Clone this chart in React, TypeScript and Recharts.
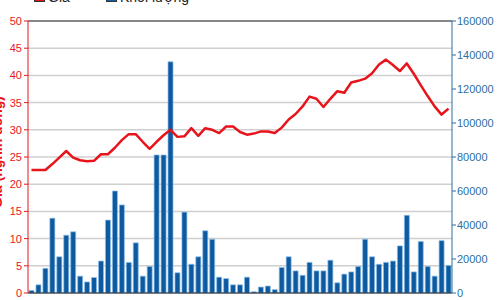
import React from 'react';
import { ComposedChart, Bar, Line, XAxis, YAxis, CartesianGrid, Legend, ReferenceLine } from 'recharts';

// 61 phiên, giá (nghìn đồng) và khối lượng
const price: number[] = [
  22.6, 22.6, 22.6, 23.7, 24.9, 26.1, 24.9, 24.4, 24.2, 24.3,
  25.5, 25.5, 26.7, 28.1, 29.2, 29.2, 27.8, 26.5, 27.8, 29.0,
  30.0, 28.7, 28.8, 30.3, 28.9, 30.3, 30.0, 29.4, 30.6, 30.6,
  29.6, 29.1, 29.3, 29.7, 29.7, 29.4, 30.4, 31.9, 32.9, 34.3,
  36.1, 35.7, 34.2, 35.7, 37.1, 36.8, 38.7, 39.0, 39.4, 40.4,
  42.0, 42.9, 41.9, 40.8, 42.2, 40.3, 38.2, 36.2, 34.3, 32.8,
  33.9,
];

const volume: number[] = [
  1500, 4800, 14500, 44000, 21300, 34000, 36000, 9900, 6500, 9100,
  18800, 42900, 60000, 51800, 18000, 29500, 9900, 15600, 81200, 81200,
  136000, 11900, 47600, 16900, 21300, 36600, 31600, 9300, 8500, 4800,
  4800, 9300, 700, 3500, 4100, 2000, 15000, 21300, 13000, 10400,
  18000, 13000, 13000, 19300, 6000, 11100, 12400, 15600, 31600, 21300,
  16900, 18000, 18800, 27700, 45700, 12400, 30300, 15600, 9900, 30800,
  16200,
];

const priceTicks = [0, 5, 10, 15, 20, 25, 30, 35, 40, 45, 50];
const volumeTicks = [0, 20000, 40000, 60000, 80000, 100000, 120000, 140000, 160000];

const data = price.map((p, i) => ({ d: i, price: p, volume: volume[i] }));

const RED = '#e8141b';
const BLUE = '#2d6f9f';
const font = '"Liberation Sans", Arial, sans-serif';

function LegendBox() {
  const item = (color: string, text: string, left: number) => (
    <div style={{ position: 'absolute', left, top: 0, display: 'flex', alignItems: 'flex-end', whiteSpace: 'nowrap' }}>
      <div style={{ width: 9, height: 9, background: color, border: '1px solid #333', marginRight: 3, marginBottom: 2 }} />
      <span style={{ fontFamily: font, fontSize: 14, lineHeight: '14px', color: '#222' }}>{text}</span>
    </div>
  );
  return (
    <div style={{ position: 'relative', height: 14 }}>
      {item(RED, 'Giá', 34)}
      {item('#1060a5', 'Khối lượng', 106)}
    </div>
  );
}

const AxisTitle = () => (
  <text transform="translate(2,152) rotate(-90)" textAnchor="middle" fill={RED}
    style={{ fontFamily: font, fontSize: 14, fontWeight: 'bold' }}>
    Giá (nghìn đồng)
  </text>
);

export default function App() {
  return (
    <div style={{ position: 'absolute', left: 0, top: 0, background: '#fff' }}>
      <ComposedChart width={501} height={300} data={data} margin={{ top: 7, right: 0, bottom: 2, left: 0 }}>
        <CartesianGrid yAxisId="p" vertical={false} stroke="#cfcfcf" strokeWidth={1.5} />
        <XAxis dataKey="d" interval={9} tick={false} tickSize={5} height={5}
          axisLine={{ stroke: '#222' }} tickLine={{ stroke: '#222' }} />
        <YAxis yAxisId="p" orientation="left" width={28} domain={[0, 50]} ticks={priceTicks}
          tickSize={4} tickMargin={2} axisLine={{ stroke: RED }} tickLine={{ stroke: RED }}
          tick={{ fill: RED, fontSize: 11, fontFamily: font }} label={<AxisTitle />} />
        <YAxis yAxisId="v" orientation="right" width={49} domain={[0, 160000]} ticks={volumeTicks}
          tickSize={4} tickMargin={1} axisLine={{ stroke: BLUE }} tickLine={{ stroke: BLUE }}
          tick={{ fill: BLUE, fontSize: 11, fontFamily: font, textAnchor: 'start' }} />
        <ReferenceLine yAxisId="p" y={50} stroke="#333" />
        <Legend verticalAlign="top" content={() => <LegendBox />}
          wrapperStyle={{ position: 'absolute', top: -10, left: 0, width: 300, height: 14 }} />
        <Bar yAxisId="v" dataKey="volume" name="Khối lượng" fill="#0d5aa0" stroke="#8dbde6" strokeWidth={0.7}
          barSize={5} isAnimationActive={false} />
        <Line yAxisId="p" dataKey="price" name="Giá" type="linear" stroke={RED} strokeWidth={2.5}
          dot={false} strokeLinejoin="round" isAnimationActive={false} />
      </ComposedChart>
    </div>
  );
}
